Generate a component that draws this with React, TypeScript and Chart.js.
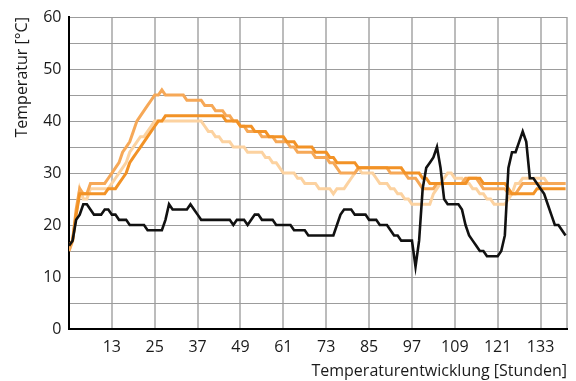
import React, { useEffect, useRef } from "react";
import { Chart, registerables } from "chart.js";

Chart.register(...registerables);

// Hours 1..140 of the temperature log
const hours: number[] = Array.from({ length: 140 }, (_, i) => i + 1);

// Outside air (black)
const outdoor: number[] = [
  16, 17, 21, 22, 24, 24, 23, 22, 22, 22,
  23, 23, 22, 22, 21, 21, 21, 20, 20, 20,
  20, 20, 19, 19, 19, 19, 19, 21, 24, 23,
  23, 23, 23, 23, 24, 23, 22, 21, 21, 21,
  21, 21, 21, 21, 21, 21, 20, 21, 21, 21,
  20, 21, 22, 22, 21, 21, 21, 21, 20, 20,
  20, 20, 20, 19, 19, 19, 19, 18, 18, 18,
  18, 18, 18, 18, 18, 20, 22, 23, 23, 23,
  22, 22, 22, 22, 21, 21, 21, 20, 20, 20,
  19, 18, 18, 17, 17, 17, 17, 12, 17, 27,
  31, 32, 33, 35, 31, 25, 24, 24, 24, 24,
  23, 20, 18, 17, 16, 15, 15, 14, 14, 14,
  14, 15, 18, 31, 34, 34, 36, 38, 36, 29,
  29, 28, 27, 26, 24, 22, 20, 20, 19, 18,
];

// Core temperature, dark orange
const coreDark: number[] = [
  16, 17, 22, 26, 26, 26, 26, 26, 26, 26,
  26, 27, 27, 27, 28, 29, 30, 32, 33, 34,
  35, 36, 37, 38, 39, 40, 40, 41, 41, 41,
  41, 41, 41, 41, 41, 41, 41, 41, 41, 41,
  41, 41, 41, 41, 40, 40, 40, 40, 39, 39,
  39, 39, 38, 38, 38, 38, 37, 37, 37, 37,
  37, 36, 36, 36, 35, 35, 35, 35, 35, 34,
  34, 34, 34, 33, 33, 32, 32, 32, 32, 32,
  32, 31, 31, 31, 31, 31, 31, 31, 31, 31,
  31, 31, 31, 31, 30, 30, 30, 30, 30, 29,
  29, 28, 28, 28, 28, 28, 28, 28, 28, 28,
  28, 28, 29, 29, 29, 29, 28, 28, 28, 28,
  28, 28, 28, 27, 26, 26, 26, 26, 26, 26,
  26, 27, 27, 27, 27, 27, 27, 27, 27, 27,
];

// Core temperature, medium orange
const coreMedium: number[] = [
  15, 17, 23, 27, 26, 26, 28, 28, 28, 28,
  28, 29, 30, 31, 32, 34, 35, 36, 38, 40,
  41, 42, 43, 44, 45, 45, 46, 45, 45, 45,
  45, 45, 45, 44, 44, 44, 44, 44, 43, 43,
  43, 42, 42, 42, 41, 41, 40, 40, 39, 39,
  38, 38, 38, 38, 37, 37, 37, 37, 36, 36,
  36, 36, 35, 35, 34, 34, 34, 34, 34, 33,
  33, 33, 33, 32, 32, 31, 30, 30, 30, 30,
  30, 31, 31, 31, 31, 31, 31, 31, 31, 31,
  30, 30, 30, 30, 30, 29, 29, 29, 28, 27,
  27, 27, 27, 28, 28, 28, 28, 28, 28, 28,
  28, 29, 29, 29, 29, 28, 27, 27, 27, 27,
  27, 27, 27, 26, 26, 26, 27, 28, 28, 28,
  28, 28, 28, 28, 28, 28, 28, 28, 28, 28,
];

// Core temperature, light orange
const coreLight: number[] = [
  15, 17, 22, 27, 25, 25, 27, 27, 27, 27,
  27, 27, 28, 29, 30, 31, 32, 34, 35, 36,
  37, 37, 38, 39, 40, 40, 40, 40, 40, 40,
  40, 40, 40, 40, 40, 40, 40, 40, 39, 38,
  38, 37, 37, 36, 36, 36, 35, 35, 35, 35,
  34, 34, 34, 34, 34, 33, 33, 32, 32, 31,
  30, 30, 30, 30, 29, 29, 28, 28, 28, 28,
  27, 27, 27, 27, 26, 27, 27, 27, 28, 29,
  30, 31, 30, 30, 30, 30, 29, 28, 28, 28,
  27, 27, 26, 26, 25, 25, 24, 24, 24, 24,
  24, 24, 26, 27, 28, 29, 30, 30, 29, 29,
  29, 28, 28, 27, 27, 26, 26, 25, 25, 24,
  24, 24, 24, 25, 26, 28, 28, 29, 29, 29,
  29, 29, 29, 29, 28, 28, 28, 28, 28, 28,
];

const xTickValues: number[] = [13, 25, 37, 49, 61, 73, 85, 97, 109, 121, 133];
const xMin = 1;
const xMax = 140.4;

const xTitle = "Temperaturentwicklung [Stunden]";
const yTitle = "Temperatur [°C]";

const FONT = "'Open Sans', 'Noto Sans', sans-serif";

function toPoints(values: number[]) {
  return values.map((v, i) => ({ x: hours[i], y: v }));
}

export default function App() {
  const canvasRef = useRef<HTMLCanvasElement | null>(null);

  useEffect(() => {
    if (!canvasRef.current) return;
    const line = (data: number[], color: string, width: number) => ({
      data: toPoints(data),
      borderColor: color,
      backgroundColor: color,
      borderWidth: width,
      pointRadius: 0,
      tension: 0,
      fill: false,
    });

    const chart = new Chart(canvasRef.current, {
      type: "line",
      data: {
        datasets: [
          line(outdoor, "#111111", 2.6),
          line(coreDark, "#f29226", 3),
          line(coreMedium, "#f6a857", 3),
          line(coreLight, "#fcd2a0", 3),
        ],
      },
      options: {
        animation: false,
        responsive: true,
        maintainAspectRatio: false,
        layout: { padding: { top: 10, right: 2.6, left: 0, bottom: 0 } },
        plugins: {
          legend: { display: false },
          tooltip: { enabled: false },
        },
        scales: {
          x: {
            type: "linear",
            min: xMin,
            max: xMax,
            afterBuildTicks: (scale: any) => {
              scale.ticks = [...xTickValues, xMax].map((v) => ({ value: v }));
            },
            afterFit: (scale: any) => {
              scale.height = 52;
            },
            ticks: {
              autoSkip: false,
              maxRotation: 0,
              padding: 9,
              color: "#1a1a1a",
              font: { family: FONT, size: 16 },
              callback: (v: any) => (xTickValues.includes(Number(v)) ? String(v) : ""),
            },
            grid: { color: "#bcbcbc", lineWidth: 2, drawTicks: false },
            border: { color: "#000000", width: 2 },
            title: {
              display: true,
              text: xTitle,
              align: "end",
              color: "#1a1a1a",
              font: { family: FONT, size: 16 },
              padding: { top: 3.4, bottom: 0 },
            },
          },
          y: {
            min: 0,
            max: 60,
            afterFit: (scale: any) => {
              scale.width = 69;
            },
            ticks: {
              stepSize: 5,
              padding: 7.5,
              color: "#1a1a1a",
              font: { family: FONT, size: 16 },
              callback: (v: any) => (Number(v) % 10 === 0 ? String(v) : ""),
            },
            grid: { color: "#9c9c9c", lineWidth: 1, drawTicks: false },
            border: { color: "#000000", width: 2 },
            title: {
              display: true,
              text: yTitle,
              align: "end",
              color: "#1a1a1a",
              font: { family: FONT, size: 16 },
              padding: { top: 13, bottom: 0 },
            },
          },
        },
      },
    } as any);

    return () => chart.destroy();
  }, []);

  return (
    <div style={{ position: "fixed", left: 0, top: 0, width: 576, height: 381, background: "#ffffff" }}>
      <canvas ref={canvasRef} />
    </div>
  );
}
